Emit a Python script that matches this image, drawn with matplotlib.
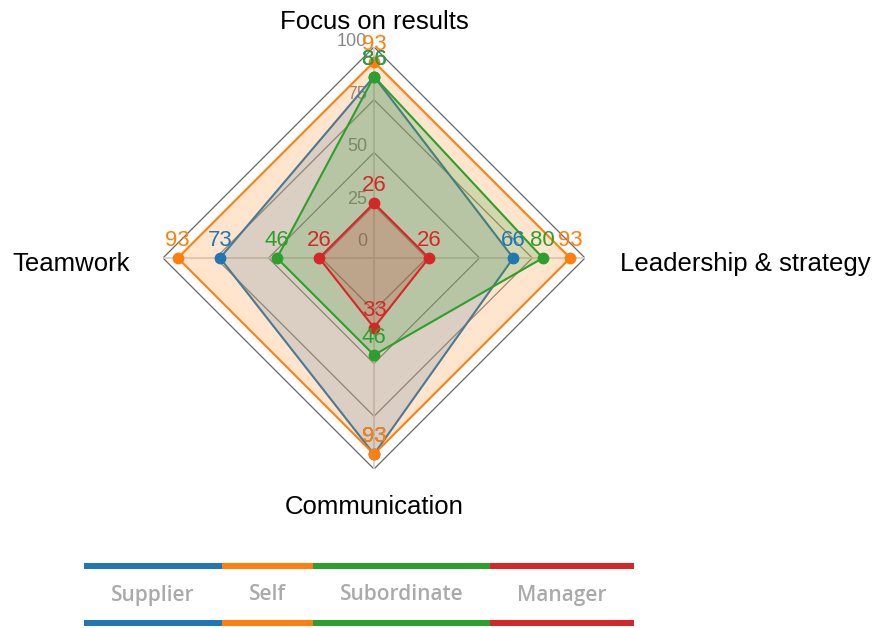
import numpy as np
import matplotlib.pyplot as plt

# data
categories = ['Focus on results', 'Leadership & strategy', 'Communication', 'Teamwork']
series_names = ['Supplier', 'Self', 'Subordinate', 'Manager']
supplier = [86, 66, 93, 73]
self_rating = [93, 93, 93, 93]
subordinate = [86, 80, 46, 46]
manager = [26, 26, 33, 26]
levels = [0, 25, 50, 75, 100]

colors = ['#1f77b4', '#ff7f0e', '#2ca02c', '#d62728']

plt.rcParams['font.family'] = ['Liberation Sans', 'DejaVu Sans']

W, H = 879, 628
fig = plt.figure(figsize=(W / 100, H / 100), dpi=100)

# radar area (centre and radius in pixels)
cx, cy, R = 374, 258, 211
ax = fig.add_axes([(cx - R) / W, (H - cy - R) / H, 2 * R / W, 2 * R / H], projection='polar')
ax.set_theta_offset(np.pi / 2)
ax.set_theta_direction(-1)
ax.set_ylim(0, 100)
ax.set_xticks([])
ax.set_yticks([])
ax.grid(False)
ax.spines['polar'].set_visible(False)
ax.patch.set_alpha(0)

angles = np.linspace(0, 2 * np.pi, len(categories), endpoint=False)
closed = np.append(angles, angles[0])

# polygon grid + spokes
for lv in levels[1:]:
    ax.plot(closed, [lv] * len(closed), color='#666666' if lv == 100 else '#8a8a80',
            lw=0.9, zorder=1)
for a in angles:
    ax.plot([a, a], [0, 100], color='#d8d0c8', lw=1.2, zorder=1)

# radial tick labels
for lv in levels:
    ax.annotate(str(lv), xy=(0, lv), xytext=(-5, 12 if lv == 0 else 4),
                textcoords='offset points', ha='right', va='center',
                fontsize=13, color='#888888', zorder=2)

# series: each fill/line sits above the previous series
all_series = [supplier, self_rating, subordinate, manager]
for i, (name, vals, col) in enumerate(zip(series_names, all_series, colors)):
    v = vals + vals[:1]
    ax.fill(closed, v, color=col, alpha=0.2, lw=0, zorder=3 + 2 * i)
    ax.plot(closed, v, color=col, lw=1.5, zorder=4 + 2 * i)
    ax.plot(angles, vals, 'o', color=col, ms=7.5, zorder=20)
    for a, val in zip(angles, vals):
        ax.annotate(str(val), xy=(a, val), xytext=(0, 5), textcoords='offset points',
                    ha='center', va='bottom', fontsize=16, color=col, zorder=21)

# category labels
label_pos = [((0, 18), 'center', 'center'),
             ((25, -4), 'left', 'center'),
             ((0, -27), 'center', 'center'),
             ((-24, -4), 'right', 'center')]
for a, cat, (off, ha, va) in zip(angles, categories, label_pos):
    ax.annotate(cat, xy=(a, 100), xytext=off, textcoords='offset points',
                ha=ha, va=va, fontsize=18.5, color='black', annotation_clip=False)

# legend drawn as coloured segments with names between two bars
lax = fig.add_axes([0, 0, 1, 1])
lax.set_xlim(0, W)
lax.set_ylim(H, 0)
lax.axis('off')
fig.canvas.draw()
renderer = fig.canvas.get_renderer()
x = 84
for name, col in zip(series_names, colors):
    t = lax.text(0, 595, name, fontsize=15, color='#aaaaaa', ha='center', va='center',
                 family=['Open Sans', 'DejaVu Sans'], fontweight='semibold')
    w = t.get_window_extent(renderer).width + 54
    t.set_x(x + w / 2)
    lax.fill_between([x, x + w], 563, 569, color=col, lw=0)
    lax.fill_between([x, x + w], 620, 626, color=col, lw=0)
    x += w

fig.savefig('out.png', dpi=100)
